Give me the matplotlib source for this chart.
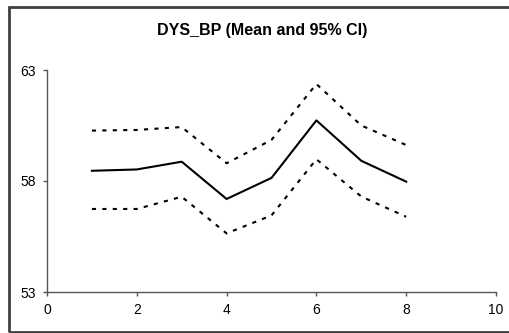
import matplotlib
matplotlib.use("Agg")
import matplotlib.pyplot as plt
from matplotlib.patches import Rectangle

plt.rcParams['font.family'] = ['Liberation Sans', 'DejaVu Sans']

x = [1, 2, 3, 4, 5, 6, 7, 8]
mean = [58.46, 58.52, 58.87, 57.19, 58.14, 60.73, 58.91, 57.97]
upper = [60.27, 60.30, 60.43, 58.80, 59.85, 62.37, 60.50, 59.62]
lower = [56.74, 56.74, 57.29, 55.64, 56.45, 58.98, 57.30, 56.39]

W, H = 509, 333
fig = plt.figure(figsize=(W / 100, H / 100), dpi=100)
ax = fig.add_axes([47 / W, 1 - 292 / H, (496 - 47) / W, (292 - 70) / H])

ax.plot(x, mean, color='black', lw=1.5)
ax.plot(x, upper, color='black', lw=1.5, ls=(0, (2, 3)))
ax.plot(x, lower, color='black', lw=1.5, ls=(0, (2, 3)))

ax.set_xlim(0, 10)
ax.set_ylim(53, 63)
ax.set_xticks([0, 2, 4, 6, 8, 10])
ax.set_yticks([53, 58, 63])
for s in ['top', 'right']:
    ax.spines[s].set_visible(False)
for s in ['left', 'bottom']:
    ax.spines[s].set_color('#555555')
    ax.spines[s].set_linewidth(1.0)
ax.tick_params(direction='out', length=3, width=1, color='#555555',
               labelsize=10, pad=5)

fig.text(262 / W, 1 - 30 / H, 'DYS_BP (Mean and 95% CI)', ha='center',
         va='center', fontsize=11.5, fontweight='bold')

fig.patches.append(Rectangle((8.5 / W, 1.5 / H), 1.1, 1 - 8 / H,
                             transform=fig.transFigure, fill=False,
                             edgecolor='#404040', lw=2))

fig.savefig('out.png', dpi=100)
